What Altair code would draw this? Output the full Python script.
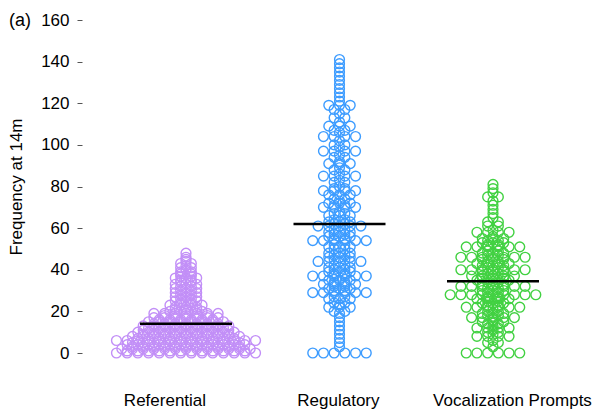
import altair as alt
import pandas as pd

FONT = "Liberation Sans"

CATEGORIES = ["Referential", "Regulatory", "Vocalization Prompts"]
COLORS = ["#C28FF7", "#3D9CFF", "#42D142"]

# Frequency tables: observed value -> number of children with that value
REF_VALUES = [0, 1, 2, 3, 4, 5, 6, 7, 8, 9, 10, 11, 12, 13, 14, 15, 16, 17, 18, 19,
              20, 21, 22, 23, 24, 25, 26, 27, 28, 29, 30, 31, 32, 33, 34, 35, 36, 37,
              38, 39, 40, 41, 42, 43, 44, 45, 46, 48]
REF_COUNTS = [14, 12, 13, 11, 12, 11, 14, 10, 11, 9, 10, 9, 8, 9, 7, 8, 6, 7, 5, 7,
              4, 3, 3, 4, 2, 3, 2, 3, 2, 3, 2, 3, 2, 3, 2, 2, 3, 2,
              2, 2, 1, 2, 1, 2, 1, 1, 1, 1]

REG_VALUES = [0, 3, 5, 7, 9, 11, 13, 15, 17,
              19, 20, 22, 23, 24, 26, 27, 29, 30, 31, 32, 33, 34, 35, 37, 38, 39, 40,
              41, 42, 44, 45, 46, 47, 48, 50, 51, 52, 54, 55, 56, 57, 58, 59, 61, 62,
              63, 64, 66, 67, 68, 70, 71, 72, 73, 74, 76, 78, 79, 80, 82, 83, 85, 86,
              88, 89, 91, 92, 94, 95, 97, 99, 100, 102, 104, 106, 107, 109, 111, 113,
              115, 117, 119, 121, 123, 125, 127, 129, 131, 133, 135, 137, 139, 141]
REG_COUNTS = [6, 1, 1, 1, 1, 1, 1, 1, 1,
              1, 2, 3, 1, 2, 3, 2, 6, 2, 3, 2, 4, 2, 3, 6, 2, 3, 2,
              3, 2, 5, 2, 3, 2, 3, 2, 3, 2, 6, 2, 3, 2, 3, 2, 5, 2,
              3, 2, 3, 2, 1, 4, 2, 3, 1, 2, 3, 4, 2, 1, 2, 1, 4, 1,
              2, 1, 3, 1, 2, 1, 4, 1, 2, 1, 4, 1, 2, 3, 1, 2,
              1, 2, 3, 1, 1, 1, 1, 1, 1, 1, 1, 1, 1, 1]

VOC_VALUES = [0, 3, 5, 6, 8, 9, 10, 11, 12, 13, 14, 15, 16, 17, 18, 19, 20, 21, 22,
              23, 24, 25, 26, 27, 28, 29, 30, 31, 32, 33, 34, 35, 36, 37, 38, 39, 40,
              41, 42, 43, 44, 45, 46, 47, 48, 49, 51, 52, 53, 54, 55, 56, 58, 59, 61,
              63, 65, 67, 69, 71, 73, 75, 77, 79, 81]
VOC_COUNTS = [6, 1, 2, 1, 4, 1, 2, 1, 4, 1, 2, 3, 1, 5, 2, 3, 2, 1, 6,
              2, 3, 2, 4, 2, 9, 2, 3, 2, 7, 3, 2, 4, 3, 5, 2, 3, 7,
              2, 3, 4, 2, 3, 7, 2, 3, 2, 6, 2, 3, 2, 3, 1, 4, 1, 2,
              2, 1, 1, 1, 1, 1, 2, 1, 1, 1]

MEANS = [14.0, 62.0, 34.5]
Y_TICKS = [0, 20, 40, 60, 80, 100, 120, 140, 160]

# Layout of the plot area
PLOT_W, PLOT_H = 514, 333
X_DOMAIN = [0.3225, 3.671]
PX_PER_UNIT = PLOT_W / (X_DOMAIN[1] - X_DOMAIN[0])
DOT_PITCH = 10.7 / PX_PER_UNIT        # horizontal spacing of tied points
MEAN_HALF = 46 / PX_PER_UNIT          # half length of the mean bar
LABEL_SHIFT = [-0.137, -0.007, 0.127]  # category label offsets from group centre


def swarm(category, center, values, counts):
    """Spread tied values side by side, centred on the group position."""
    rows = []
    for v, n in zip(values, counts):
        for k in range(n):
            rows.append({"category": category,
                         "x": center + (k - (n - 1) / 2) * DOT_PITCH,
                         "value": v})
    return rows


tables = [(REF_VALUES, REF_COUNTS), (REG_VALUES, REG_COUNTS), (VOC_VALUES, VOC_COUNTS)]
dots = []
for i, (cat, (vals, cnts)) in enumerate(zip(CATEGORIES, tables)):
    dots += swarm(cat, i + 1, vals, cnts)
dots = pd.DataFrame(dots)

means = pd.DataFrame({
    "category": CATEGORIES,
    "x": [i + 1 - MEAN_HALF for i in range(3)],
    "x2": [i + 1 + MEAN_HALF for i in range(3)],
    "value": MEANS,
})

labels = pd.DataFrame({
    "category": CATEGORIES,
    "x": [i + 1 + s for i, s in enumerate(LABEL_SHIFT)],
})

x_scale = alt.Scale(domain=X_DOMAIN, nice=False, zero=False)
y_scale = alt.Scale(domain=[0, 160], nice=False, zero=False)
y_axis = alt.Axis(values=Y_TICKS, title="Frequency at 14m", grid=False, domain=False,
                  tickSize=5, tickColor="#555555", tickWidth=1,
                  labelFontSize=17, labelColor="black", labelPadding=8, labelFont=FONT,
                  titleFontSize=17, titleFontWeight="normal", titleColor="black",
                  titleFont=FONT, titlePadding=15)

points = alt.Chart(dots).mark_point(
    shape="circle", filled=False, size=96, strokeWidth=1.4, opacity=1
).encode(
    x=alt.X("x:Q", scale=x_scale, axis=None),
    y=alt.Y("value:Q", scale=y_scale, axis=y_axis),
    color=alt.Color("category:N", scale=alt.Scale(domain=CATEGORIES, range=COLORS),
                    legend=None),
)

mean_bars = alt.Chart(means).mark_rule(color="black", strokeWidth=2.5).encode(
    x=alt.X("x:Q", scale=x_scale, axis=None),
    x2="x2:Q",
    y=alt.Y("value:Q", scale=y_scale, axis=y_axis),
)

cat_labels = alt.Chart(labels).mark_text(
    fontSize=17, font=FONT, color="black", baseline="alphabetic", align="center"
).encode(
    x=alt.X("x:Q", scale=x_scale, axis=None),
    y=alt.value(386),
    text="category:N",
)

panel_tag = alt.Chart(pd.DataFrame({"tag": ["(a)"]})).mark_text(
    fontSize=18, font=FONT, color="black", baseline="alphabetic", align="left"
).encode(
    x=alt.value(-73),
    y=alt.value(6),
    text="tag:N",
)

chart = alt.layer(points, mean_bars, cat_labels, panel_tag).properties(
    width=PLOT_W,
    height=PLOT_H,
    autosize=alt.AutoSizeParams(type="none"),
    padding={"left": 82, "top": 20, "right": 0, "bottom": 61},
    background="white",
).configure_view(stroke=None)

chart.save("out.html", embed_options={"renderer": "svg", "actions": False})
